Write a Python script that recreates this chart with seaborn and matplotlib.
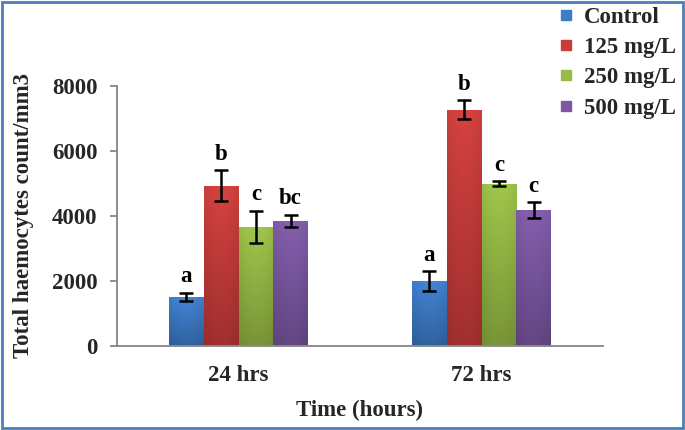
import numpy as np
import pandas as pd
import matplotlib
matplotlib.use("Agg")
import matplotlib.pyplot as plt
import matplotlib.colors as mcolors
from matplotlib.lines import Line2D
from matplotlib.patches import Rectangle
import seaborn as sns

# ---- data ----
times = ["24 hrs", "72 hrs"]
treatments = ["Control", "125 mg/L", "250 mg/L", "500 mg/L"]
means_24 = [1500, 4925, 3650, 3850]
means_72 = [1990, 7270, 4990, 4180]
err_24 = [130, 475, 505, 185]
err_72 = [300, 295, 72, 240]
letters_24 = ["a", "b", "c", "bc"]
letters_72 = ["a", "b", "c", "c"]
colors = ["#3d7cc9", "#c93c3a", "#97bb45", "#7c58a4"]
yticks = [0, 2000, 4000, 6000, 8000]

rows = []
for t, m, e, l in [(times[0], means_24, err_24, letters_24), (times[1], means_72, err_72, letters_72)]:
    for tr, mv, ev, lv in zip(treatments, m, e, l):
        rows.append({"time": t, "treatment": tr, "count": mv, "err": ev, "letter": lv})
df = pd.DataFrame(rows)

sns.set_theme(style="white")
plt.rcParams["font.family"] = ["Liberation Serif", "DejaVu Serif"]
plt.rcParams["font.weight"] = "bold"

fig = plt.figure(figsize=(6.85, 4.3), dpi=100)
ax = fig.add_axes([117/685, 1-345.5/430, (603-117)/685, (345.5-86)/430])

sns.barplot(data=df, x="time", y="count", hue="treatment", hue_order=treatments,
            order=times, palette=colors, width=0.572, gap=0, errorbar=None,
            saturation=1, legend=False, ax=ax)

ax.set_ylim(0, 8000)
ax.set_xlim(-0.5, 1.5)

# gradient overlay + error bars + letters
for cont, tr, col in zip(ax.containers, treatments, colors):
    sub = df[df["treatment"] == tr].set_index("time").loc[times]
    base = np.array(mcolors.to_rgb(col))
    top = np.clip(base * 1.04 + 0.015, 0, 1)
    bot = base * 0.8
    n = 64
    tgrid = np.linspace(0, 1, n)[:, None]
    vert = top[None, :] * (1 - tgrid) + bot[None, :] * tgrid
    xs = np.linspace(-1, 1, 16)
    hshade = (1.0 - 0.06 * xs**2)[None, :, None]
    img = np.clip(vert[:, None, :] * hshade, 0, 1)
    for patch, (_, r) in zip(cont.patches, sub.iterrows()):
        x0, y0 = patch.get_x(), patch.get_y()
        w, h = patch.get_width(), patch.get_height()
        im = ax.imshow(img, extent=[x0, x0 + w, y0, y0 + h], aspect="auto",
                       origin="upper", zorder=patch.get_zorder() + 0.1)
        im.set_clip_path(patch)
        xc = x0 + w / 2
        ax.errorbar(xc, r["count"], yerr=r["err"], fmt="none", ecolor="black",
                    elinewidth=1.8, capsize=5, capthick=1.8, zorder=5)
        ax.annotate(r["letter"], (xc, r["count"] + r["err"]), xytext=(0, 4),
                    textcoords="offset points", ha="center", va="bottom",
                    fontsize=16.5, fontweight="bold", color="black")
ax.set_xlim(-0.5, 1.5)
ax.set_ylim(0, 8000)

ax.set_yticks(yticks)
ax.set_yticklabels([str(v) for v in yticks])
for s in ["top", "right"]:
    ax.spines[s].set_visible(False)
for s in ["left", "bottom"]:
    ax.spines[s].set_color("#868686")
    ax.spines[s].set_linewidth(1.3)
ax.tick_params(axis="y", direction="out", length=5, width=1.3, color="#868686",
               pad=9, labelsize=16.5, left=True)
ax.tick_params(axis="x", length=0, pad=14, labelsize=16.5)
for lab in ax.get_xticklabels() + ax.get_yticklabels():
    lab.set_fontweight("bold")

ax.set_xlabel("Time (hours)", fontsize=16.5, fontweight="bold", labelpad=10)
ax.set_ylabel("Total haemocytes count/mm3", fontsize=16.5, fontweight="bold", labelpad=13)

handles = [Line2D([0], [0], marker="s", linestyle="none", markersize=7.5,
                  markerfacecolor=c, markeredgecolor=c) for c in colors]
fig.legend(handles, treatments, loc="upper left", bbox_to_anchor=(559/685, 1 - 7/430),
           frameon=False, prop={"weight": "bold", "size": 16.5},
           handlelength=0.6, handletextpad=0.5, labelspacing=0.4, borderpad=0,
           borderaxespad=0)

fig.patches.append(Rectangle((0.003, 0.004), 0.994, 0.992, transform=fig.transFigure,
                             fill=False, edgecolor="#4a7ebb", linewidth=2))

fig.savefig("out.png", dpi=100)
